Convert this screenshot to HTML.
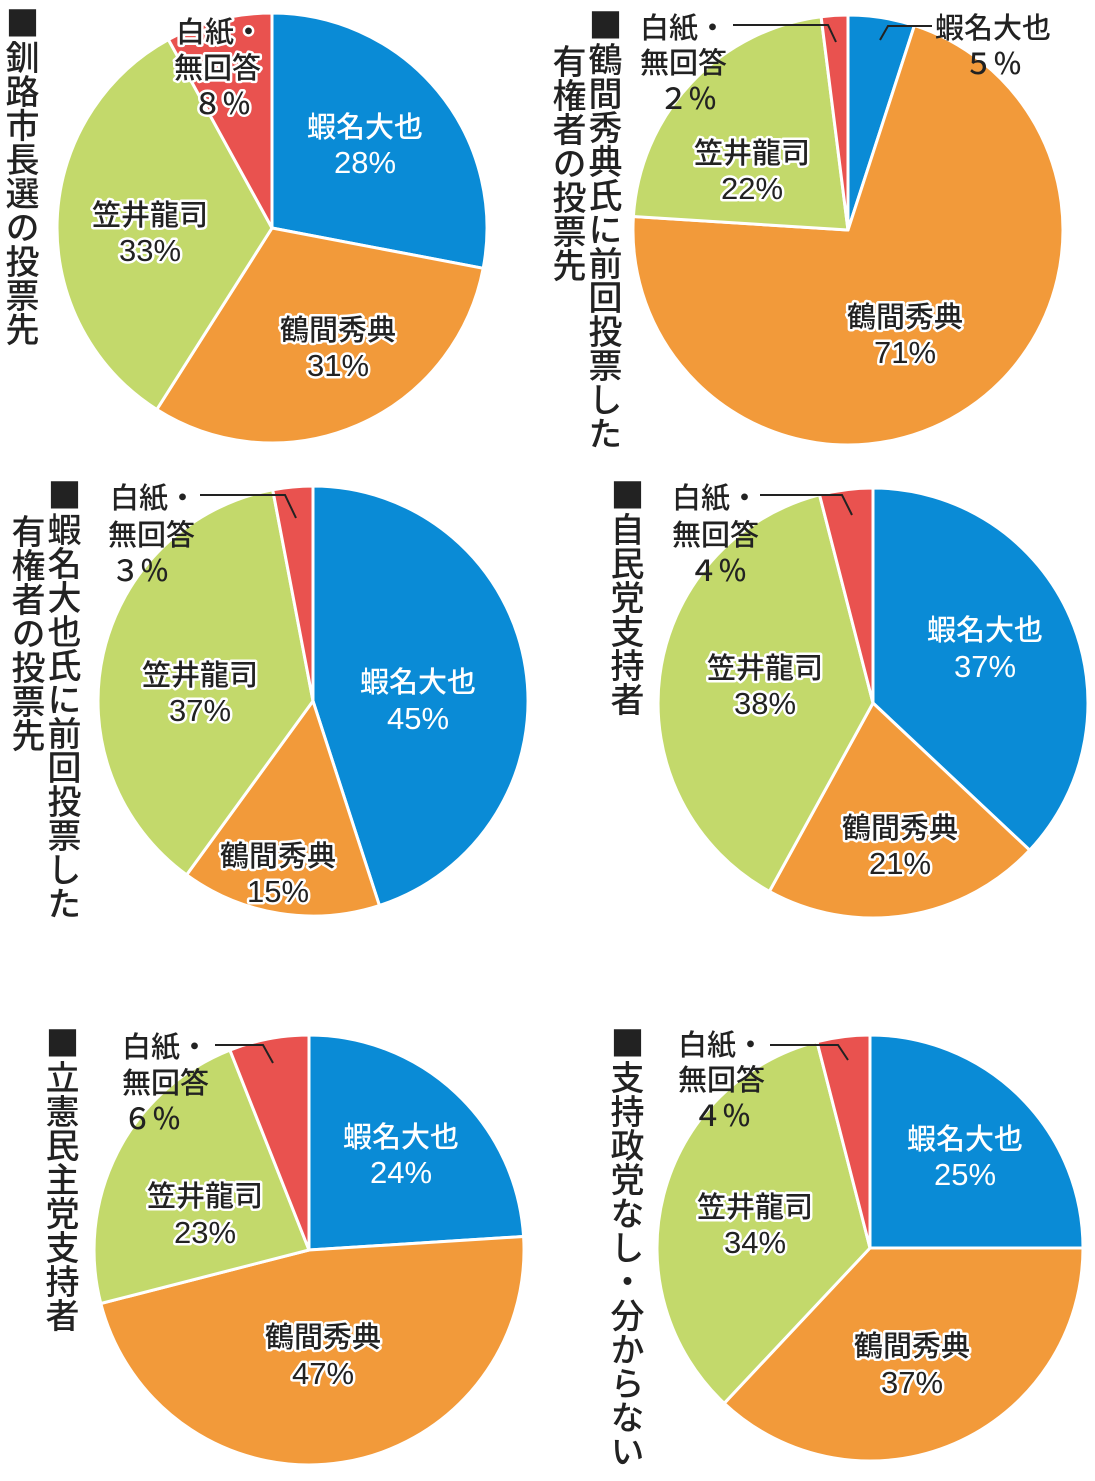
<!DOCTYPE html>
<html><head><meta charset="utf-8"><style>
html,body{margin:0;padding:0;background:#fff;}
body{width:1095px;height:1481px;position:relative;overflow:hidden;font-family:"Liberation Sans","Noto Sans CJK JP",sans-serif;}
.t{position:absolute;writing-mode:vertical-rl;font-family:"Noto Sans CJK JP",sans-serif;font-size:34px;line-height:36px;color:#222;font-weight:500;white-space:nowrap;}
svg{position:absolute;left:0;top:0;}
svg text{font-family:"Liberation Sans","Noto Sans CJK JP",sans-serif;font-size:29px;font-weight:500;text-anchor:middle;}
.in{fill:#222;stroke:#fff;stroke-width:5px;paint-order:stroke;stroke-linejoin:round;}
.w{fill:#fff;}
.o{fill:#222;text-anchor:start !important;}
.oc{fill:#222;font-family:"Noto Sans CJK JP",sans-serif !important;}
.p{font-size:31px !important;}
</style></head><body>
<div class="t" style="left:4px;top:6px;">■釧路市長選の投票先</div>
<div class="t" style="left:587px;top:8px;">■鶴間秀典氏に前回投票した</div>
<div class="t" style="left:551px;top:44px;">有権者の投票先</div>
<div class="t" style="left:46px;top:478px;">■蝦名大也氏に前回投票した</div>
<div class="t" style="left:10px;top:514px;">有権者の投票先</div>
<div class="t" style="left:609px;top:478px;">■自民党支持者</div>
<div class="t" style="left:44px;top:1026px;">■立憲民主党支持者</div>
<div class="t" style="left:609px;top:1026px;">■支持政党なし・分からない</div>
<svg width="1095" height="1481" viewBox="0 0 1095 1481">
<g id="pies"></g>
<g stroke="#222" stroke-width="2" fill="none">
<polyline points="880,40 888,26 932,26"/>
<polyline points="733,25 828,25 836,42"/>
<polyline points="200,495 285,495 296,518"/>
<polyline points="760,495 842,495 852,515"/>
<polyline points="215,1045 263,1045 273,1063"/>
<polyline points="770,1045 838,1045 848,1060"/>
</g>
<text class="w" x="365" y="137">蝦名大也</text><text class="w p" x="365" y="173">28%</text>
<text class="in" x="338" y="340">鶴間秀典</text><text class="in p" x="338" y="376">31%</text>
<text class="in" x="150" y="225">笠井龍司</text><text class="in p" x="150" y="261">33%</text>
<text class="in o" x="176" y="42">白紙・</text><text class="in o" x="174" y="78">無回答</text><text class="in oc" x="222" y="114">８％</text>
<text class="o" x="935" y="38">蝦名大也</text><text class="oc" x="993" y="74">５％</text>
<text class="o" x="640" y="38">白紙・</text><text class="o" x="640" y="73">無回答</text><text class="oc" x="688" y="109">２％</text>
<text class="in" x="752" y="163">笠井龍司</text><text class="in p" x="752" y="199">22%</text>
<text class="in" x="905" y="327">鶴間秀典</text><text class="in p" x="905" y="363">71%</text>
<text class="o" x="110" y="508">白紙・</text><text class="o" x="108" y="545">無回答</text><text class="oc" x="140" y="581">３％</text>
<text class="in" x="200" y="685">笠井龍司</text><text class="in p" x="200" y="721">37%</text>
<text class="w" x="418" y="692">蝦名大也</text><text class="w p" x="418" y="729">45%</text>
<text class="in" x="278" y="866">鶴間秀典</text><text class="in p" x="278" y="902">15%</text>
<text class="o" x="672" y="508">白紙・</text><text class="o" x="672" y="545">無回答</text><text class="oc" x="718" y="581">４％</text>
<text class="in" x="765" y="678">笠井龍司</text><text class="in p" x="765" y="714">38%</text>
<text class="w" x="985" y="640">蝦名大也</text><text class="w p" x="985" y="677">37%</text>
<text class="in" x="900" y="838">鶴間秀典</text><text class="in p" x="900" y="874">21%</text>
<text class="o" x="122" y="1057">白紙・</text><text class="o" x="122" y="1093">無回答</text><text class="oc" x="152" y="1129">６％</text>
<text class="in" x="205" y="1206">笠井龍司</text><text class="in p" x="205" y="1243">23%</text>
<text class="w" x="401" y="1147">蝦名大也</text><text class="w p" x="401" y="1183">24%</text>
<text class="in" x="323" y="1347">鶴間秀典</text><text class="in p" x="323" y="1384">47%</text>
<text class="o" x="678" y="1055">白紙・</text><text class="o" x="678" y="1090">無回答</text><text class="oc" x="722" y="1126">４％</text>
<text class="in" x="755" y="1217">笠井龍司</text><text class="in p" x="755" y="1253">34%</text>
<text class="w" x="965" y="1149">蝦名大也</text><text class="w p" x="965" y="1185">25%</text>
<text class="in" x="912" y="1356">鶴間秀典</text><text class="in p" x="912" y="1393">37%</text>
</svg>
<script>
var cols=["#0a8bd6","#f29a3a","#c3d96b","#e9524f"];
var pies=[[272,228,215,[28,31,33,8]],[848,230,215,[5,71,22,2]],[313,701,215,[45,15,37,3]],[873,703,215,[37,21,38,4]],[309,1250,215,[24,47,23,6]],[870,1248,213,[25,37,34,4]]];
var g=document.getElementById("pies"),s="";
pies.forEach(function(p){var cx=p[0],cy=p[1],r=p[2],a=0;
p[3].forEach(function(v,i){var a0=a/100*2*Math.PI,a1=(a+v)/100*2*Math.PI;a+=v;
var x0=cx+r*Math.sin(a0),y0=cy-r*Math.cos(a0),x1=cx+r*Math.sin(a1),y1=cy-r*Math.cos(a1);
s+='<path d="M'+cx+','+cy+'L'+x0.toFixed(1)+','+y0.toFixed(1)+'A'+r+','+r+' 0 '+(v>50?1:0)+' 1 '+x1.toFixed(1)+','+y1.toFixed(1)+'Z" fill="'+cols[i]+'" stroke="#fff" stroke-width="3" stroke-linejoin="round"/>';});});
g.innerHTML=s;
</script>
</body></html>
